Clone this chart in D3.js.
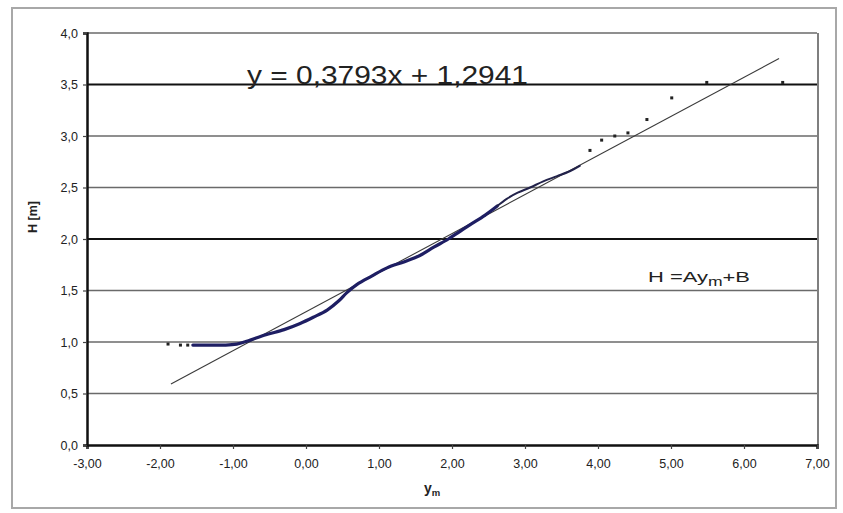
<!DOCTYPE html>
<html>
<head>
<meta charset="utf-8">
<script src="https://cdn.jsdelivr.net/npm/d3@7/dist/d3.min.js"></script>
<style>
  html, body { margin: 0; padding: 0; background: #fff; }
  svg { display: block; }
  text { font-family: Arial, "Liberation Sans", sans-serif; fill: #222; }
</style>
</head>
<body>
<svg id="chart" width="843" height="513"></svg>
<script>
// Axis ticks
const xTicks = [-3, -2, -1, 0, 1, 2, 3, 4, 5, 6, 7];
const xTickLabels = ["-3,00", "-2,00", "-1,00", "0,00", "1,00", "2,00", "3,00", "4,00", "5,00", "6,00", "7,00"];
const yTicks = [0, 0.5, 1, 1.5, 2, 2.5, 3, 3.5, 4];
const yTickLabels = ["0,0", "0,5", "1,0", "1,5", "2,0", "2,5", "3,0", "3,5", "4,0"];

// Observed water levels H [m] against the reduced variate y_m
const lowTailYm = [-1.89, -1.72, -1.62];
const lowTailH  = [0.98, 0.97, 0.97];
// densely packed observations (lower body)
const denseYm = [-1.55, -1.30, -1.10, -0.95, -0.80, -0.55, -0.30, -0.08, 0.10, 0.29, 0.45, 0.56, 0.70, 0.90, 1.11, 1.35, 1.56, 1.75, 1.95, 2.10, 2.25, 2.45, 2.62];
const denseH  = [0.97, 0.97, 0.97, 0.98, 1.01, 1.07, 1.12, 1.18, 1.24, 1.31, 1.40, 1.48, 1.56, 1.64, 1.72, 1.78, 1.84, 1.92, 2.00, 2.07, 2.14, 2.23, 2.32];
// thinner run of observations above
const midYm = [2.62, 2.75, 2.90, 3.07, 3.25, 3.44, 3.62, 3.75];
const midH  = [2.32, 2.39, 2.45, 2.50, 2.56, 2.61, 2.66, 2.71];
const upperYm = [3.89, 4.05, 4.23, 4.41, 4.67, 5.01, 5.49, 6.53];
const upperH  = [2.86, 2.96, 3.00, 3.03, 3.16, 3.37, 3.52, 3.52];

// Linear fit H = A*y_m + B
const fitA = 0.3793;
const fitB = 1.2941;
const fitRange = [-1.85, 6.48];

const svg = d3.select("#chart");
const plotLeft = 87, plotRight = 817, plotTop = 33, plotBottom = 445;

const x = d3.scaleLinear().domain([-3, 7]).range([plotLeft, plotRight]);
const y = d3.scaleLinear().domain([0, 4]).range([plotBottom, plotTop]);

// Outer chart frame
svg.append("rect")
  .attr("x", 12).attr("y", 8).attr("width", 824).attr("height", 500)
  .attr("fill", "#fff").attr("stroke", "#a8a8a8").attr("stroke-width", 2);

// Horizontal gridlines
const heavyGrid = new Set([2, 3.5]);
svg.append("g").selectAll("line")
  .data(yTicks.filter(d => d > 0))
  .join("line")
  .attr("x1", plotLeft).attr("x2", plotRight)
  .attr("y1", d => y(d)).attr("y2", d => y(d))
  .attr("stroke", d => heavyGrid.has(d) ? "#111" : "#6a6a6a")
  .attr("stroke-width", d => heavyGrid.has(d) ? 2.2 : 1.6);

// Right edge of plot area
svg.append("line")
  .attr("x1", plotRight + 1).attr("x2", plotRight + 1)
  .attr("y1", plotTop).attr("y2", plotBottom)
  .attr("stroke", "#555").attr("stroke-width", 1.5);

// Axes
const xAxis = d3.axisBottom(x)
  .tickValues(xTicks)
  .tickSize(4)
  .tickPadding(6)
  .tickFormat((d, i) => xTickLabels[i]);
const yAxis = d3.axisLeft(y)
  .tickValues(yTicks)
  .tickSize(4)
  .tickPadding(5)
  .tickFormat((d, i) => yTickLabels[i]);

const gx = svg.append("g").attr("transform", `translate(0,${plotBottom})`).call(xAxis);
const gy = svg.append("g").attr("transform", `translate(${plotLeft},0)`).call(yAxis);
[gx, gy].forEach(g => {
  g.select(".domain").attr("stroke", "#111").attr("stroke-width", 2.5);
  g.selectAll(".tick line").attr("stroke", "#444").attr("stroke-width", 1.2);
  g.selectAll(".tick text")
    .attr("font-size", 12.5)
    .attr("font-family", "Arial, 'Liberation Sans', sans-serif")
    .attr("fill", "#333");
});
gx.selectAll(".tick text").attr("dy", "1.05em");

// Fitted trend line
svg.append("line")
  .attr("x1", x(fitRange[0])).attr("y1", y(fitA * fitRange[0] + fitB))
  .attr("x2", x(fitRange[1])).attr("y2", y(fitA * fitRange[1] + fitB))
  .attr("stroke", "#3a3a3a").attr("stroke-width", 1.1);

// Dense body of the observations
const obsLine = (xs, hs) => d3.line()
  .x((d, i) => x(xs[i]))
  .y((d, i) => y(hs[i]))
  .curve(d3.curveCatmullRom)(xs);
svg.append("path")
  .attr("d", obsLine(denseYm, denseH))
  .attr("fill", "none")
  .attr("stroke", "#1e1e63")
  .attr("stroke-width", 3.2)
  .attr("stroke-linecap", "round");
svg.append("path")
  .attr("d", obsLine(midYm, midH))
  .attr("fill", "none")
  .attr("stroke", "#22224a")
  .attr("stroke-width", 2)
  .attr("stroke-linecap", "round");

// Isolated observations at both tails
const tailPts = lowTailYm.map((v, i) => [v, lowTailH[i]])
  .concat(upperYm.map((v, i) => [v, upperH[i]]));
svg.append("g").selectAll("rect")
  .data(tailPts)
  .join("rect")
  .attr("x", d => x(d[0]) - 1.5)
  .attr("y", d => y(d[1]) - 1.5)
  .attr("width", 3).attr("height", 3)
  .attr("fill", "#222");

// Fit equation
svg.append("text")
  .attr("x", 247).attr("y", 84)
  .attr("font-size", 25)
  .attr("textLength", 281)
  .attr("lengthAdjust", "spacingAndGlyphs")
  .attr("fill", "#2a2a2a")
  .text(`y = ${String(fitA).replace(".", ",")}x + ${String(fitB).replace(".", ",")}`);

// Model formula
const model = svg.append("text")
  .attr("x", 648).attr("y", 282)
  .attr("font-size", 15)
  .attr("textLength", 102)
  .attr("lengthAdjust", "spacingAndGlyphs")
  .attr("fill", "#444");
model.append("tspan").text("H =Ay");
model.append("tspan").attr("font-size", 12).attr("dy", 4).text("m");
model.append("tspan").attr("dy", -4).text("+B");

// Axis titles
svg.append("text")
  .attr("transform", `translate(37,217) rotate(-90)`)
  .attr("text-anchor", "middle")
  .attr("font-size", 12.5)
  .attr("font-weight", "bold")
  .attr("fill", "#222")
  .text("H [m]");

const xt = svg.append("text")
  .attr("x", 432).attr("y", 493)
  .attr("text-anchor", "middle")
  .attr("font-size", 14)
  .attr("font-weight", "bold")
  .attr("fill", "#222");
xt.append("tspan").text("y");
xt.append("tspan").attr("font-size", 9.5).attr("dy", 3).text("m");
</script>
</body>
</html>
